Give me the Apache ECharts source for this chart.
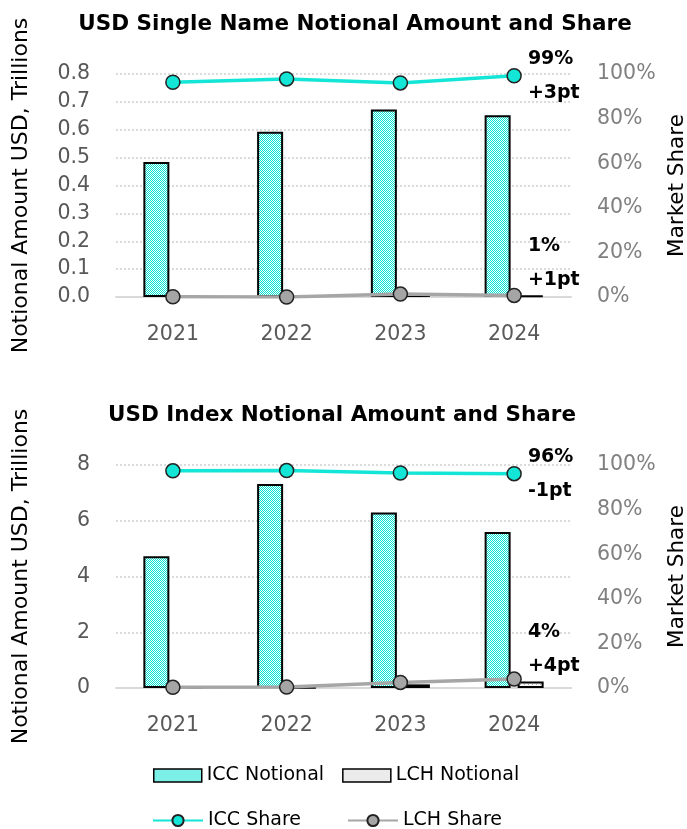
<!DOCTYPE html>
<html>
<head>
<meta charset="utf-8">
<script src="https://cdn.jsdelivr.net/npm/echarts@6/dist/echarts.min.js"></script>
<style>
html, body { margin: 0; padding: 0; background: #fff; }
#main { width: 687px; height: 829px; }
</style>
</head>
<body>
<div id="main"></div>
<script>
const years = ['2021', '2022', '2023', '2024'];

// USD Single Name (USD trillions, market share %)
const snIccNotional = [0.484, 0.593, 0.673, 0.652];
const snLchNotional = [0.001, 0.001, 0.008, 0.006];
const snIccShare = [96.3, 97.8, 96.0, 99.2];
const snLchShare = [0.1, 0.0, 1.3, 0.7];
const snIccNote = ['99%', '+3pt'];
const snLchNote = ['1%', '+1pt'];

// USD Index
const ixIccNotional = [4.73, 7.32, 6.30, 5.60];
const ixLchNotional = [0.01, 0.02, 0.13, 0.23];
const ixIccShare = [97.4, 97.5, 96.4, 96.1];
const ixLchShare = [0.3, 0.4, 2.5, 4.0];
const ixIccNote = ['96%', '-1pt'];
const ixLchNote = ['4%', '+4pt'];

const titles = ['USD Single Name Notional Amount and Share', 'USD Index Notional Amount and Share'];

const FONT = 'DejaVu Sans';
const cyan = '#13E5D6';

// small repeating fills like the Excel patterns
function checker() {
    const cv = document.createElement('canvas');
    cv.width = 2; cv.height = 2;
    const ctx = cv.getContext('2d');
    ctx.fillStyle = '#ffffff';
    ctx.fillRect(0, 0, 2, 2);
    ctx.fillStyle = '#00E3D2';
    ctx.fillRect(0, 0, 1, 1);
    ctx.fillRect(1, 1, 1, 1);
    return { image: cv, repeat: 'repeat' };
}
function dots() {
    const cv = document.createElement('canvas');
    cv.width = 4; cv.height = 4;
    const ctx = cv.getContext('2d');
    ctx.fillStyle = '#f7f7f7';
    ctx.fillRect(0, 0, 4, 4);
    ctx.fillStyle = '#b0b0b0';
    ctx.fillRect(0, 0, 1, 1);
    ctx.fillRect(2, 2, 1, 1);
    return { image: cv, repeat: 'repeat' };
}
const iccFill = checker();
const lchFill = dots();

function noteData(values, note, offsetY) {
    return values.map((v, i) => {
        if (i !== values.length - 1) return v;
        return {
            value: v,
            label: {
                show: true,
                position: 'right',
                distance: 6,
                offset: [0, offsetY],
                formatter: '{a|' + note[0] + '}\n{a|' + note[1] + '}',
                rich: { a: { fontFamily: FONT, fontSize: 19, fontWeight: 'bold', color: '#000', lineHeight: 34 } }
            }
        };
    });
}

function leftAxis(idx, max, interval, digits) {
    return {
        type: 'value', gridIndex: idx, min: 0, max: max, interval: interval,
        name: 'Notional Amount USD, Trillions', nameLocation: 'middle', nameGap: 84,
        nameTextStyle: { fontFamily: FONT, fontSize: 22, color: '#000' },
        axisLine: { show: false }, axisTick: { show: false },
        axisLabel: { fontFamily: FONT, fontSize: 20.5, color: '#595959', margin: 26,
            formatter: v => v.toFixed(digits) },
        splitLine: { show: true, lineStyle: { color: '#d0d0d0', type: [2, 2], width: 1.5 } }
    };
}
function rightAxis(idx) {
    return {
        type: 'value', gridIndex: idx, min: 0, max: 100, interval: 20, position: 'right',
        name: 'Market Share', nameLocation: 'middle', nameGap: 95,
        nameTextStyle: { fontFamily: FONT, fontSize: 21.5, color: '#000' },
        axisLine: { show: false }, axisTick: { show: false },
        axisLabel: { fontFamily: FONT, fontSize: 20.5, color: '#808080', margin: 26, formatter: '{value}%' },
        splitLine: { show: false }
    };
}
function xAxis(idx) {
    return {
        type: 'category', gridIndex: idx, data: years,
        axisLine: { lineStyle: { color: '#d9d9d9', width: 2 } },
        axisTick: { show: false },
        axisLabel: { fontFamily: FONT, fontSize: 20.5, color: '#595959', margin: 27 }
    };
}
function barSeries(name, idx, data, fill) {
    return {
        name: name, type: 'bar', xAxisIndex: idx, yAxisIndex: idx * 2,
        data: data, barWidth: 26, barGap: '27%',
        itemStyle: { color: fill, borderColor: '#000', borderWidth: 2 }
    };
}
function lineSeries(name, idx, data, color, fill, note, offsetY) {
    return {
        name: name, type: 'line', xAxisIndex: idx, yAxisIndex: idx * 2 + 1,
        data: noteData(data, note, offsetY), z: 5,
        symbol: 'circle', symbolSize: 14,
        lineStyle: { color: color, width: 3.5 },
        itemStyle: { color: fill, borderColor: '#222', borderWidth: 1.5 }
    };
}

const chart = echarts.init(document.getElementById('main'));
chart.setOption({
    animation: false,
    backgroundColor: '#fff',
    title: [
        { text: titles[0], left: 355, top: 13, textAlign: 'center', padding: 0,
          textStyle: { fontFamily: FONT, fontSize: 21.5, fontWeight: 'bold', color: '#000' } },
        { text: titles[1], left: 342, top: 404, textAlign: 'center', padding: 0,
          textStyle: { fontFamily: FONT, fontSize: 21.5, fontWeight: 'bold', color: '#000' } }
    ],
    grid: [
        { left: 116, right: 116, top: 74, height: 223, outerBoundsMode: 'none', containLabel: false },
        { left: 116, right: 116, top: 465, height: 223, outerBoundsMode: 'none', containLabel: false }
    ],
    xAxis: [xAxis(0), xAxis(1)],
    yAxis: [leftAxis(0, 0.8, 0.1, 1), rightAxis(0), leftAxis(1, 8, 2, 0), rightAxis(1)],
    legend: [
        { data: [
              { name: 'ICC Notional', itemStyle: { color: '#7CEFE6', borderColor: '#000', borderWidth: 1.5 } },
              { name: 'LCH Notional', itemStyle: { color: '#ebebeb', borderColor: '#000', borderWidth: 1.5 } }
          ],
          icon: 'rect', left: 153, top: 766, padding: 0, itemWidth: 48, itemHeight: 13,
          itemGap: 18, textStyle: { fontFamily: FONT, fontSize: 19, color: '#000' } },
        { data: ['ICC Share', 'LCH Share'], left: 152, top: 811, padding: 0, itemWidth: 50, itemHeight: 14,
          itemGap: 46, textStyle: { fontFamily: FONT, fontSize: 19, color: '#000' } }
    ],
    series: [
        barSeries('ICC Notional', 0, snIccNotional, iccFill),
        barSeries('LCH Notional', 0, snLchNotional, lchFill),
        lineSeries('ICC Share', 0, snIccShare, cyan, cyan, snIccNote, 0),
        lineSeries('LCH Share', 0, snLchShare, '#a6a6a6', '#a5a5a5', snLchNote, -32),
        barSeries('ICC Notional', 1, ixIccNotional, iccFill),
        barSeries('LCH Notional', 1, ixLchNotional, lchFill),
        lineSeries('ICC Share', 1, ixIccShare, cyan, cyan, ixIccNote, 0),
        lineSeries('LCH Share', 1, ixLchShare, '#a6a6a6', '#a5a5a5', ixLchNote, -30)
    ]
});
</script>
</body>
</html>
